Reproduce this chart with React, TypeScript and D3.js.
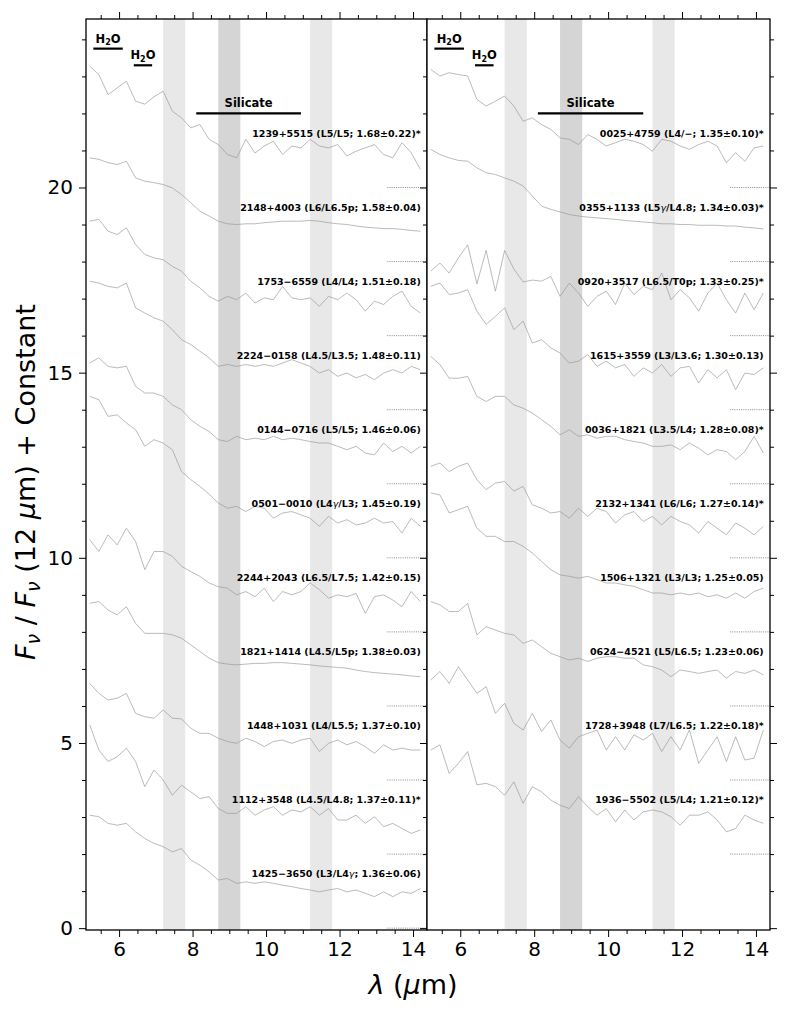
import React, { useRef, useEffect } from "react";
import * as d3 from "d3";

// wavelength grid (micron) shared by every spectrum
const wave = [
  5.2, 5.45, 5.7, 5.95, 6.2, 6.45, 6.7, 6.95, 7.2, 7.45, 7.7, 7.95, 8.2, 8.45,
  8.7, 8.95, 9.2, 9.45, 9.7, 9.95, 10.2, 10.45, 10.7, 10.95, 11.2, 11.45, 11.7,
  11.95, 12.2, 12.45, 12.7, 12.95, 13.2, 13.45, 13.7, 13.95, 14.2,
];

// left panel, normalised flux (F / F(12um))
const s1239 = [3.28, 3.05, 2.51, 2.69, 2.87, 2.33, 2.25, 2.45, 2.6, 2.06, 1.88, 1.61, 1.7, 1.3, 1.16, 0.89, 0.8, 1.3, 0.93, 1.12, 1.25, 0.89, 1.12, 1.07, 1.3, 1.12, 1.07, 1.16, 0.85, 0.98, 1.07, 1.16, 0.89, 0.8, 1.21, 0.94, 0.49];
const s2148 = [2.8, 2.76, 2.67, 2.62, 2.71, 2.26, 2.17, 2.13, 2.08, 1.99, 1.81, 1.59, 1.36, 1.23, 1.09, 1.02, 1.0, 1.02, 1.02, 1.05, 1.07, 1.09, 1.09, 1.09, 1.11, 1.09, 1.05, 1.02, 1.0, 0.96, 0.93, 0.91, 0.89, 0.89, 0.87, 0.84, 0.82];
const s1753 = [3.09, 3.14, 2.82, 2.73, 2.91, 2.46, 2.19, 2.1, 2.05, 1.87, 1.74, 1.47, 1.29, 1.06, 0.93, 1.06, 0.97, 1.15, 0.88, 1.02, 0.97, 1.33, 1.02, 0.97, 1.02, 0.79, 1.06, 0.97, 1.15, 0.97, 0.66, 0.93, 0.84, 1.06, 1.2, 0.79, 0.61];
const s2224 = [3.47, 3.42, 3.33, 3.29, 3.42, 2.75, 2.61, 2.48, 2.39, 2.16, 1.89, 1.76, 1.58, 1.4, 1.17, 1.22, 1.17, 1.22, 1.17, 1.22, 1.17, 1.26, 1.35, 1.26, 1.17, 0.99, 1.08, 0.9, 0.99, 0.86, 0.95, 0.81, 0.99, 1.08, 0.99, 1.17, 1.08];
const s0144 = [3.26, 3.4, 3.17, 3.13, 3.17, 2.63, 2.45, 2.45, 2.36, 2.13, 2.0, 1.73, 1.55, 1.41, 1.19, 1.14, 1.28, 1.19, 1.23, 1.19, 1.28, 1.19, 1.23, 1.19, 1.14, 1.1, 1.1, 1.01, 0.92, 1.01, 0.83, 0.78, 1.1, 0.87, 1.01, 0.83, 1.01];
const s0501 = [4.36, 4.27, 3.82, 3.86, 3.64, 3.46, 3.01, 3.19, 3.1, 2.92, 2.33, 2.11, 1.93, 1.72, 1.48, 1.34, 1.39, 1.25, 1.39, 1.34, 1.07, 1.21, 1.25, 1.16, 1.07, 0.85, 1.12, 0.94, 1.03, 0.89, 0.94, 1.07, 0.94, 0.98, 0.67, 1.07, 0.85];
const s2244 = [2.49, 2.17, 2.62, 2.35, 2.8, 2.44, 1.68, 2.17, 2.17, 2.04, 1.77, 1.63, 1.5, 1.32, 1.22, 1.18, 1.0, 1.09, 0.95, 1.18, 0.82, 1.09, 1.0, 1.09, 1.32, 1.14, 0.91, 1.0, 0.95, 1.04, 0.5, 0.95, 1.0, 0.86, 0.68, 1.09, 0.82];
const s1821 = [2.77, 2.82, 2.59, 2.46, 2.68, 2.23, 1.96, 1.96, 1.96, 1.92, 1.83, 1.65, 1.47, 1.29, 1.17, 1.13, 1.11, 1.13, 1.15, 1.15, 1.17, 1.17, 1.15, 1.13, 1.11, 1.08, 1.06, 1.04, 1.02, 0.97, 0.93, 0.9, 0.88, 0.86, 0.84, 0.81, 0.79];
const s1448 = [2.61, 2.34, 2.16, 2.21, 2.34, 1.8, 1.71, 1.67, 1.89, 1.67, 1.65, 1.4, 1.26, 1.26, 1.13, 1.04, 0.99, 1.13, 1.04, 0.9, 1.04, 1.08, 0.99, 1.08, 1.13, 0.77, 0.99, 1.08, 0.95, 1.04, 0.9, 0.72, 0.95, 0.81, 0.86, 0.81, 0.81];
const s1112 = [3.49, 2.81, 2.5, 2.63, 2.86, 2.5, 1.82, 2.27, 2.0, 1.59, 1.86, 1.68, 1.5, 1.55, 1.23, 1.1, 1.1, 1.28, 1.05, 1.19, 1.28, 1.05, 1.19, 1.14, 1.28, 1.05, 1.23, 0.92, 0.92, 1.05, 0.83, 1.01, 0.74, 0.83, 0.69, 0.56, 0.65];
const s1425 = [3.05, 3.01, 2.83, 2.78, 2.83, 2.6, 2.42, 2.29, 2.2, 2.06, 2.15, 1.84, 1.7, 1.52, 1.3, 1.34, 1.21, 1.25, 1.21, 1.25, 1.21, 1.16, 1.12, 1.07, 1.03, 0.98, 1.03, 1.07, 0.98, 1.03, 0.94, 0.85, 0.98, 0.85, 0.98, 0.94, 1.07];

// right panel
const s0025 = [3.19, 3.01, 3.1, 3.05, 3.01, 2.38, 2.2, 2.33, 2.47, 2.2, 1.79, 1.88, 1.7, 1.57, 1.34, 1.3, 1.16, 1.43, 1.3, 1.12, 1.21, 1.3, 1.25, 1.16, 0.98, 1.3, 1.25, 1.12, 1.03, 1.16, 1.25, 1.12, 0.67, 0.94, 0.71, 1.07, 1.12];
const s0355 = [3.03, 2.89, 2.8, 2.73, 2.71, 2.53, 2.4, 2.35, 2.26, 2.17, 2.04, 1.77, 1.5, 1.41, 1.34, 1.27, 1.23, 1.2, 1.18, 1.16, 1.14, 1.11, 1.09, 1.07, 1.05, 1.02, 1.02, 1.0, 1.0, 0.98, 0.98, 0.98, 0.96, 0.96, 0.93, 0.91, 0.88];
const s0920 = [1.74, 1.96, 1.69, 2.1, 2.45, 1.4, 2.3, 1.2, 2.3, 1.8, 1.45, 1.5, 1.47, 1.6, 1.06, 1.42, 1.15, 0.79, 1.06, 1.2, 0.84, 1.42, 1.11, 1.33, 1.24, 1.69, 0.97, 1.24, 1.02, 0.66, 1.15, 1.42, 0.97, 0.61, 1.15, 0.7, 1.15];
const s1615 = [3.33, 3.42, 3.11, 3.15, 3.24, 2.66, 2.3, 2.52, 2.75, 2.16, 2.39, 1.8, 1.89, 1.67, 1.53, 1.26, 1.31, 1.49, 1.17, 1.31, 1.13, 1.22, 0.9, 1.13, 0.99, 1.22, 0.9, 1.13, 1.17, 0.72, 1.08, 0.86, 1.08, 0.54, 0.99, 0.95, 1.13];
const s0036 = [3.44, 3.22, 2.85, 2.85, 2.9, 2.36, 2.22, 2.36, 2.36, 2.13, 2.04, 1.91, 1.73, 1.55, 1.32, 1.46, 1.28, 1.32, 1.23, 1.28, 1.28, 1.19, 1.14, 1.1, 1.01, 1.01, 1.05, 0.92, 1.1, 0.96, 0.78, 0.92, 0.87, 0.65, 0.87, 1.28, 0.83];
const s2132 = [2.47, 2.56, 2.33, 2.47, 2.56, 2.11, 1.84, 2.02, 2.06, 1.8, 1.93, 1.43, 1.34, 1.21, 1.25, 1.07, 1.34, 1.12, 1.34, 1.25, 0.94, 1.16, 1.25, 0.98, 1.12, 0.89, 1.12, 0.98, 0.89, 0.67, 0.98, 0.8, 0.62, 0.94, 0.8, 0.62, 0.85];
const s1506 = [3.75, 3.7, 3.21, 3.3, 3.39, 2.8, 2.58, 2.58, 2.44, 2.44, 2.31, 2.13, 1.9, 1.68, 1.54, 1.5, 1.45, 1.5, 1.41, 1.32, 1.32, 1.27, 1.23, 1.14, 1.05, 1.05, 1.0, 1.05, 1.0, 1.05, 0.95, 1.0, 0.91, 1.05, 0.91, 1.09, 1.18];
const s0624 = [2.82, 2.73, 2.55, 2.55, 2.77, 1.92, 2.14, 2.05, 1.96, 1.92, 1.69, 1.78, 1.6, 1.42, 1.33, 1.24, 1.29, 1.2, 1.29, 1.33, 1.33, 1.29, 1.29, 1.11, 1.06, 0.97, 0.79, 0.97, 0.93, 0.88, 0.93, 0.97, 0.75, 0.93, 0.88, 0.97, 0.84];
const s1728 = [2.7, 2.93, 2.61, 3.06, 2.7, 2.34, 2.52, 1.8, 2.07, 1.53, 1.35, 1.8, 1.31, 1.62, 1.08, 0.86, 1.17, 1.26, 1.35, 0.81, 1.17, 0.81, 1.22, 1.08, 1.26, 0.77, 1.17, 0.81, 1.35, 0.45, 0.81, 1.17, 0.5, 1.17, 0.54, 0.59, 1.35];
const s1936 = [2.81, 2.95, 2.18, 2.45, 2.77, 1.87, 1.91, 1.82, 1.59, 1.95, 1.37, 1.82, 1.68, 1.46, 1.32, 1.23, 1.55, 1.28, 1.05, 1.23, 0.87, 1.19, 0.92, 1.14, 1.19, 1.14, 1.01, 0.78, 1.05, 1.05, 1.14, 0.92, 0.6, 0.69, 1.05, 0.92, 0.83];

const leftSpectra = [s1239, s2148, s1753, s2224, s0144, s0501, s2244, s1821, s1448, s1112, s1425];
const leftLabels = [
  "1239+5515 (L5/L5; 1.68±0.22)*",
  "2148+4003 (L6/L6.5p; 1.58±0.04)",
  "1753−6559 (L4/L4; 1.51±0.18)",
  "2224−0158 (L4.5/L3.5; 1.48±0.11)",
  "0144−0716 (L5/L5; 1.46±0.06)",
  "0501−0010 (L4γ/L3; 1.45±0.19)",
  "2244+2043 (L6.5/L7.5; 1.42±0.15)",
  "1821+1414 (L4.5/L5p; 1.38±0.03)",
  "1448+1031 (L4/L5.5; 1.37±0.10)",
  "1112+3548 (L4.5/L4.8; 1.37±0.11)*",
  "1425−3650 (L3/L4γ; 1.36±0.06)",
];
const leftOffsets = [20, 18, 16, 14, 12, 10, 8, 6, 4, 2, 0];

const rightSpectra = [s0025, s0355, s0920, s1615, s0036, s2132, s1506, s0624, s1728, s1936];
const rightLabels = [
  "0025+4759 (L4/−; 1.35±0.10)*",
  "0355+1133 (L5γ/L4.8; 1.34±0.03)*",
  "0920+3517 (L6.5/T0p; 1.33±0.25)*",
  "1615+3559 (L3/L3.6; 1.30±0.13)",
  "0036+1821 (L3.5/L4; 1.28±0.08)*",
  "2132+1341 (L6/L6; 1.27±0.14)*",
  "1506+1321 (L3/L3; 1.25±0.05)",
  "0624−4521 (L5/L6.5; 1.23±0.06)",
  "1728+3948 (L7/L6.5; 1.22±0.18)*",
  "1936−5502 (L5/L4; 1.21±0.12)*",
];
const rightOffsets = [20, 18, 16, 14, 12, 10, 8, 6, 4, 2];

// shaded bands [from, to]
const lightBands = [[7.2, 7.8], [11.2, 11.8]];
const darkBands = [[8.7, 9.3]];

// feature bars: name, from, to, bar level
const features = [
  { name: "H2O", from: 5.3, to: 6.1, level: 23.75 },
  { name: "H2O", from: 6.4, to: 6.9, level: 23.3 },
  { name: "Silicate", from: 8.1, to: 10.95, level: 22.0 },
];

const xTicks = [6, 8, 10, 12, 14];
const yTicks = [0, 5, 10, 15, 20];

const FONT = "'DejaVu Sans', sans-serif";

const App: React.FC = () => {
  const ref = useRef<SVGSVGElement | null>(null);

  useEffect(() => {
    if (!ref.current) return;
    const svg = d3.select(ref.current);
    svg.selectAll("*").remove();

    const top = 19;
    const bottom = 930;
    const panelRanges = [
      [86, 427],
      [427, 770],
    ];

    const y = d3.scaleLinear().domain([-0.05, 24.55]).range([bottom, top]);

    const panels = [
      { spectra: leftSpectra, labels: leftLabels, offsets: leftOffsets },
      { spectra: rightSpectra, labels: rightLabels, offsets: rightOffsets },
    ];

    panels.forEach((p, pi) => {
      const x = d3.scaleLinear().domain([5.1, 14.38]).range(panelRanges[pi]);
      const [x0, x1] = panelRanges[pi];
      const g = svg.append("g");

      g.append("rect")
        .attr("x", x0)
        .attr("y", top)
        .attr("width", x1 - x0)
        .attr("height", bottom - top)
        .attr("fill", "white");

      lightBands.forEach((b) => {
        g.append("rect")
          .attr("x", x(b[0]))
          .attr("y", top)
          .attr("width", x(b[1]) - x(b[0]))
          .attr("height", bottom - top)
          .attr("fill", "#e8e8e8");
      });
      darkBands.forEach((b) => {
        g.append("rect")
          .attr("x", x(b[0]))
          .attr("y", top)
          .attr("width", x(b[1]) - x(b[0]))
          .attr("height", bottom - top)
          .attr("fill", "#d5d5d5");
      });

      p.spectra.forEach((s, i) => {
        const off = p.offsets[i];
        const line = d3
          .line<number>()
          .x((_, k) => x(wave[k]))
          .y((d) => y(d + off));
        g.append("path")
          .datum(s)
          .attr("fill", "none")
          .attr("stroke", "#969696")
          .attr("stroke-width", 0.65)
          .attr("stroke-linejoin", "round")
          .attr("d", line);

        // zero level marker
        g.append("line")
          .attr("x1", x(13.3))
          .attr("x2", x1)
          .attr("y1", y(off))
          .attr("y2", y(off))
          .attr("stroke", "#7a7a7a")
          .attr("stroke-width", 0.9)
          .attr("stroke-dasharray", "1,1.2");

        const t = g
          .append("text")
          .attr("x", x(14.21))
          .attr("y", y(off + 1.37))
          .attr("text-anchor", "end")
          .style("font-family", FONT)
          .style("font-size", "9.5px")
          .style("font-weight", "bold");
        p.labels[i].split("γ").forEach((part, k) => {
          if (k > 0)
            t.append("tspan")
              .style("font-style", "italic")
              .style("font-weight", "normal")
              .text("γ");
          t.append("tspan").text(part);
        });
      });

      features.forEach((f) => {
        g.append("line")
          .attr("x1", x(f.from))
          .attr("x2", x(f.to))
          .attr("y1", y(f.level))
          .attr("y2", y(f.level))
          .attr("stroke", "black")
          .attr("stroke-width", 2.2);
        const t = g
          .append("text")
          .attr("x", x((f.from + f.to) / 2))
          .attr("y", y(f.level) - 6)
          .attr("text-anchor", "middle")
          .style("font-family", FONT)
          .style("font-size", "11.5px")
          .style("font-weight", "bold");
        if (f.name === "H2O") {
          t.append("tspan").text("H");
          t.append("tspan").attr("dy", 2.5).style("font-size", "8px").text("2");
          t.append("tspan").attr("dy", -2.5).text("O");
        } else {
          t.text(f.name);
        }
      });

      g.append("rect")
        .attr("x", x0)
        .attr("y", top)
        .attr("width", x1 - x0)
        .attr("height", bottom - top)
        .attr("fill", "none")
        .attr("stroke", "black")
        .attr("stroke-width", 1.3);

      const minorX = d3.range(5.5, 14.3, 0.5).filter((v) => v % 2 !== 0);
      const minorY = d3.range(1, 25, 1).filter((v) => v % 5 !== 0);

      const styleAxis = (a: d3.Selection<SVGGElement, unknown, null, undefined>) => {
        a.select(".domain").remove();
        a.selectAll("line").attr("stroke", "black").attr("stroke-width", 1);
        a.selectAll("text")
          .style("font-family", FONT)
          .style("font-size", "20px")
          .attr("fill", "black");
      };

      // bottom
      g.append("g")
        .attr("transform", `translate(0,${bottom})`)
        .call(d3.axisBottom(x).tickValues(xTicks).tickSize(7).tickPadding(5).tickFormat(d3.format("d")))
        .call(styleAxis);
      g.append("g")
        .attr("transform", `translate(0,${bottom})`)
        .call(d3.axisBottom(x).tickValues(minorX).tickSize(4).tickFormat(() => ""))
        .call(styleAxis);
      // top
      g.append("g")
        .attr("transform", `translate(0,${top})`)
        .call(d3.axisTop(x).tickValues(xTicks).tickSize(7).tickFormat(() => ""))
        .call(styleAxis);
      g.append("g")
        .attr("transform", `translate(0,${top})`)
        .call(d3.axisTop(x).tickValues(minorX).tickSize(4).tickFormat(() => ""))
        .call(styleAxis);
      // left
      g.append("g")
        .attr("transform", `translate(${x0},0)`)
        .call(
          d3
            .axisLeft(y)
            .tickValues(yTicks)
            .tickSize(7)
            .tickPadding(6)
            .tickFormat(pi === 0 ? d3.format("d") : () => "")
        )
        .call(styleAxis);
      g.append("g")
        .attr("transform", `translate(${x0},0)`)
        .call(d3.axisLeft(y).tickValues(minorY).tickSize(4).tickFormat(() => ""))
        .call(styleAxis);
      if (pi === 1) {
        g.append("g")
          .attr("transform", `translate(${x1},0)`)
          .call(d3.axisRight(y).tickValues(yTicks).tickSize(7).tickFormat(() => ""))
          .call(styleAxis);
        g.append("g")
          .attr("transform", `translate(${x1},0)`)
          .call(d3.axisRight(y).tickValues(minorY).tickSize(4).tickFormat(() => ""))
          .call(styleAxis);
      }
    });

    // axis labels
    const xl = svg
      .append("text")
      .attr("x", 413)
      .attr("y", 994)
      .attr("text-anchor", "middle")
      .style("font-family", FONT)
      .style("font-size", "27px");
    xl.append("tspan").style("font-style", "italic").text("λ");
    xl.append("tspan").text(" (");
    xl.append("tspan").style("font-style", "italic").text("μ");
    xl.append("tspan").text("m)");

    const yl = svg
      .append("text")
      .attr("transform", "translate(35,482) rotate(-90)")
      .attr("text-anchor", "middle")
      .style("font-family", FONT)
      .style("font-size", "27px");
    yl.append("tspan").style("font-style", "italic").text("F");
    yl.append("tspan").style("font-style", "italic").style("font-size", "19px").attr("dy", 5).text("ν");
    yl.append("tspan").attr("dy", -5).text(" / ");
    yl.append("tspan").style("font-style", "italic").text("F");
    yl.append("tspan").style("font-style", "italic").style("font-size", "19px").attr("dy", 5).text("ν");
    yl.append("tspan").attr("dy", -5).text(" (12 ");
    yl.append("tspan").style("font-style", "italic").text("μ");
    yl.append("tspan").text("m) + Constant");
  }, []);

  return (
    <svg
      ref={ref}
      width={788}
      height={1012}
      style={{ position: "absolute", left: 0, top: 0, background: "white" }}
    ></svg>
  );
};

export default App;
